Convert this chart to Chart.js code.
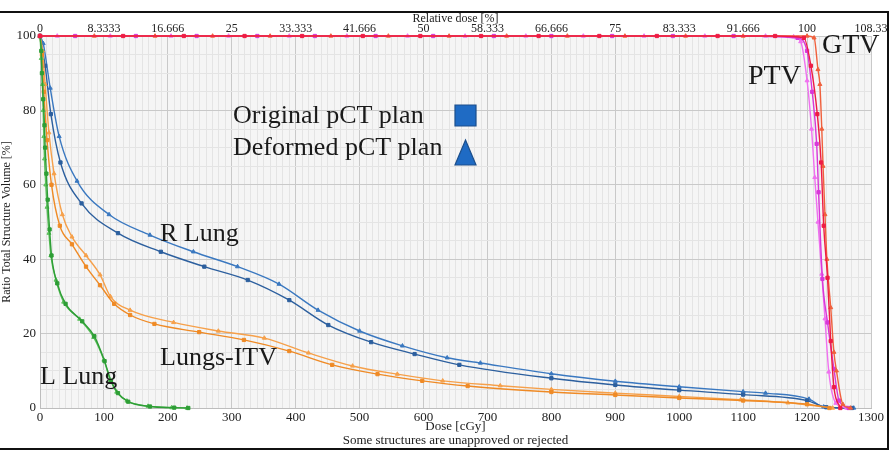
<!DOCTYPE html>
<html>
<head>
<meta charset="utf-8">
<script src="https://cdn.jsdelivr.net/npm/chart.js@4.4.1/dist/chart.umd.min.js"></script>
<style>
  html, body { margin: 0; padding: 0; background: #fff; }
  #wrap { width: 893px; height: 460px; position: relative; }
</style>
</head>
<body>
<div id="wrap"><canvas id="dvh" width="893" height="460"></canvas></div>
<script>
// Trục trên: liều tương đối (%) ứng với mỗi 100 cGy
const relTickLabels = ['0', '8.3333', '16.666', '25', '33.333', '41.666', '50', '58.333',
  '66.666', '75', '83.333', '91.666', '100', '108.33'];

// R Lung
const rLungDefDose = [0, 5, 16, 30, 58, 108, 172, 240, 309, 374, 435, 500, 567, 637, 689, 800, 900, 1000, 1100, 1135, 1203, 1226, 1273];
const rLungDefVol  = [100, 98, 86, 73, 61, 52, 46.5, 42, 38, 33.3, 26.3, 20.7, 16.7, 13.5, 12.1, 9.2, 7.2, 5.7, 4.4, 4.0, 2.4, 0.3, 0];
const rLungOrgDose = [0, 8, 17, 32, 65, 122, 189, 257, 325, 390, 451, 518, 586, 656, 800, 900, 1000, 1100, 1200, 1230, 1270];
const rLungOrgVol  = [100, 92, 79, 66, 55, 47, 42, 38, 34.4, 29, 22.3, 17.7, 14.5, 11.6, 8.0, 6.2, 4.8, 3.6, 2.0, 0.2, 0];

// Lungs-ITV
const itvDefDose = [0, 4, 8, 14, 22, 35, 50, 72, 94, 110, 141, 209, 279, 351, 420, 489, 559, 630, 720, 800, 900, 1000, 1096, 1170, 1240];
const itvDefVol  = [100, 96, 87, 74, 63, 52, 46, 41, 35.8, 30, 26.3, 23, 20.7, 18.8, 14.8, 11.3, 9.1, 7.3, 6.0, 5.0, 4.0, 3.1, 2.2, 1.4, 0];
const itvOrgDose = [0, 3, 6, 11, 18, 31, 50, 72, 94, 116, 141, 179, 249, 319, 390, 457, 528, 598, 669, 800, 900, 1000, 1100, 1200, 1235];
const itvOrgVol  = [100, 95, 85, 72, 60, 49, 44, 38, 33, 28, 25, 22.6, 20.4, 18.3, 15.3, 11.6, 9.1, 7.3, 5.9, 4.3, 3.5, 2.7, 2.0, 1.0, 0];

// L Lung
const lLungDefDose = [0, 2, 4, 5, 6, 7, 9, 11, 14, 17, 25, 37, 62, 84, 100, 110, 120, 136, 169, 206, 230];
const lLungDefVol  = [100, 94, 87, 80, 73, 67, 60, 54, 47, 41, 34.4, 28.5, 23.9, 19, 12.9, 7.5, 4.3, 1.9, 0.5, 0.1, 0];
const lLungOrgDose = [0, 2, 3, 5, 7, 8, 10, 12, 15, 18, 27, 40, 66, 85, 101, 111, 122, 138, 172, 210, 232];
const lLungOrgVol  = [100, 96, 90, 83, 76, 70, 63, 56, 48, 41, 33.5, 28, 23.3, 19.3, 12.6, 7.3, 4.0, 1.7, 0.4, 0.1, 0];

// PTV
const ptvDefDose = [0, 27, 110, 205, 295, 390, 480, 575, 665, 760, 850, 945, 1040, 1135, 1179, 1190, 1200, 1207, 1212, 1217, 1223, 1228, 1234, 1245, 1262];
const ptvDefVol  = [100, 100, 100, 100, 100, 100, 100, 100, 100, 100, 100, 100, 100, 100, 99.8, 98.5, 88, 75, 62, 50, 36, 24, 9.7, 1.3, 0];
const ptvOrgDose = [0, 55, 150, 245, 340, 430, 525, 615, 710, 800, 895, 990, 1085, 1185, 1200, 1208, 1215, 1218, 1224, 1232, 1242, 1250, 1265];
const ptvOrgVol  = [100, 100, 100, 100, 100, 100, 100, 100, 100, 100, 100, 100, 100, 99.5, 96, 85, 71, 58, 34.7, 23, 10.5, 2, 0];

// GTV
const gtvDefDose = [0, 85, 180, 270, 360, 455, 545, 640, 730, 825, 915, 1010, 1100, 1200, 1211, 1217, 1220, 1223, 1225, 1228, 1231, 1237, 1242, 1246, 1256, 1268];
const gtvDefVol  = [100, 100, 100, 100, 100, 100, 100, 100, 100, 100, 100, 100, 100, 100, 99.5, 91, 87, 75, 65, 52, 40, 27, 15, 10, 1, 0];
const gtvOrgDose = [0, 130, 225, 320, 410, 505, 595, 690, 780, 875, 965, 1060, 1150, 1195, 1206, 1216, 1222, 1226, 1232, 1237, 1242, 1252];
const gtvOrgVol  = [100, 100, 100, 100, 100, 100, 100, 100, 100, 100, 100, 100, 100, 99.5, 92, 79, 66, 49, 35, 18, 5.6, 0];

const serif = "'Liberation Serif', 'Times New Roman', serif";

function makeSet(label, doses, vols, color, style) {
  return {
    label: label,
    data: doses.map((d, i) => ({ x: d, y: vols[i] })),
    borderColor: color,
    backgroundColor: color,
    borderWidth: 1.4,
    pointStyle: style,
    pointRadius: 2.3,
    pointBorderWidth: 1,
    cubicInterpolationMode: 'monotone',
    fill: false,
    clip: 5
  };
}

// Nền vùng vẽ, khung ngoài, nhãn và chú thích
const decorPlugin = {
  id: 'decor',
  beforeDraw(chart) {
    const c = chart.ctx;
    const a = chart.chartArea;
    c.save();
    c.fillStyle = '#ffffff';
    c.fillRect(0, 0, chart.width, chart.height);
    c.fillStyle = '#f5f5f5';
    c.fillRect(a.left, a.top, a.right - a.left, a.bottom - a.top);
    c.restore();
  },
  afterDraw(chart) {
    const c = chart.ctx;
    c.save();
    // khung ngoài
    c.strokeStyle = '#111';
    c.lineWidth = 2;
    c.beginPath();
    c.moveTo(0, 12); c.lineTo(888, 12);
    c.lineTo(888, 449); c.lineTo(0, 449);
    c.stroke();

    c.fillStyle = '#1a1a1a';
    c.textBaseline = 'alphabetic';
    c.textAlign = 'left';
    c.font = '28px ' + serif;
    c.fillText('GTV', 822, 53);
    c.fillText('PTV', 748, 84);
    c.font = '26px ' + serif;
    c.fillText('R Lung', 160, 241);
    c.fillText('Lungs-ITV', 160, 365);
    c.fillText('L Lung', 40, 384);
    c.fillText('Original pCT plan', 233, 123);
    c.fillText('Deformed pCT plan', 233, 155);

    // biểu tượng chú thích
    c.fillStyle = '#1f6bc4';
    c.strokeStyle = '#1c4f8c';
    c.lineWidth = 1.2;
    c.beginPath();
    c.rect(455, 105, 21, 21);
    c.fill(); c.stroke();
    c.beginPath();
    c.moveTo(465.5, 140); c.lineTo(476, 165); c.lineTo(455, 165);
    c.closePath();
    c.fill(); c.stroke();
    c.restore();
  }
};

const majorGrid = '#c9c9c9';
const minorGrid = '#e4e4e4';

// Dataset đầu tiên được vẽ trên cùng, nên GTV đứng trước
new Chart(document.getElementById('dvh').getContext('2d'), {
  type: 'line',
  data: {
    datasets: [
      makeSet('GTV (original)', gtvOrgDose, gtvOrgVol, '#ee1c44', 'rect'),
      makeSet('GTV (deformed)', gtvDefDose, gtvDefVol, '#f0603c', 'triangle'),
      makeSet('PTV (original)', ptvOrgDose, ptvOrgVol, '#d838d8', 'rect'),
      makeSet('PTV (deformed)', ptvDefDose, ptvDefVol, '#f070f0', 'triangle'),
      makeSet('L Lung (original)', lLungOrgDose, lLungOrgVol, '#2e9e36', 'rect'),
      makeSet('L Lung (deformed)', lLungDefDose, lLungDefVol, '#5cc05c', 'triangle'),
      makeSet('Lungs-ITV (original)', itvOrgDose, itvOrgVol, '#ef8a25', 'rect'),
      makeSet('Lungs-ITV (deformed)', itvDefDose, itvDefVol, '#f6a04a', 'triangle'),
      makeSet('R Lung (original)', rLungOrgDose, rLungOrgVol, '#2c5f9e', 'rect'),
      makeSet('R Lung (deformed)', rLungDefDose, rLungDefVol, '#3a78c0', 'triangle')
    ]
  },
  options: {
    responsive: false,
    animation: false,
    layout: { padding: { left: 0, right: 22, top: 12, bottom: 12 } },
    plugins: {
      legend: { display: false },
      tooltip: { enabled: false }
    },
    scales: {
      x: {
        type: 'linear',
        position: 'bottom',
        min: 0,
        max: 1300,
        afterFit(s) { s.height = 40; },
        grid: {
          drawTicks: false,
          color: ctx => (ctx.tick && ctx.tick.value % 100 === 0) ? majorGrid : minorGrid
        },
        border: { color: '#bdbdbd' },
        ticks: {
          stepSize: 10,
          autoSkip: false,
          maxRotation: 0,
          padding: 2,
          color: '#222',
          font: { family: serif, size: 13 },
          callback: v => (v % 100 === 0 ? String(v) : '')
        },
        title: {
          display: true,
          text: ['Dose [cGy]', 'Some structures are unapproved or rejected'],
          color: '#222',
          font: { family: serif, size: 13, lineHeight: 1.1 },
          padding: { top: -4, bottom: 0 }
        }
      },
      x2: {
        type: 'linear',
        position: 'top',
        min: 0,
        max: 1300,
        afterFit(s) { s.height = 24; },
        grid: { display: false, drawTicks: false },
        border: { display: false },
        ticks: {
          stepSize: 100,
          autoSkip: false,
          maxRotation: 0,
          padding: 0,
          color: '#222',
          font: { family: serif, size: 12 },
          callback: (v, i) => relTickLabels[i]
        },
        title: {
          display: true,
          text: 'Relative dose [%]',
          color: '#222',
          font: { family: serif, size: 12 },
          padding: 0
        }
      },
      y: {
        min: 0,
        max: 100,
        afterFit(s) { s.width = 40; },
        grid: {
          drawTicks: false,
          color: ctx => (ctx.tick && ctx.tick.value % 20 === 0) ? majorGrid : minorGrid
        },
        border: { color: '#bdbdbd' },
        ticks: {
          stepSize: 5,
          autoSkip: false,
          padding: 4,
          color: '#222',
          font: { family: serif, size: 13 },
          callback: v => (v % 20 === 0 ? String(v) : '')
        },
        title: {
          display: true,
          text: 'Ratio Total Structure Volume [%]',
          color: '#222',
          font: { family: serif, size: 12 },
          padding: 0
        }
      }
    }
  },
  plugins: [decorPlugin]
});
</script>
</body>
</html>
